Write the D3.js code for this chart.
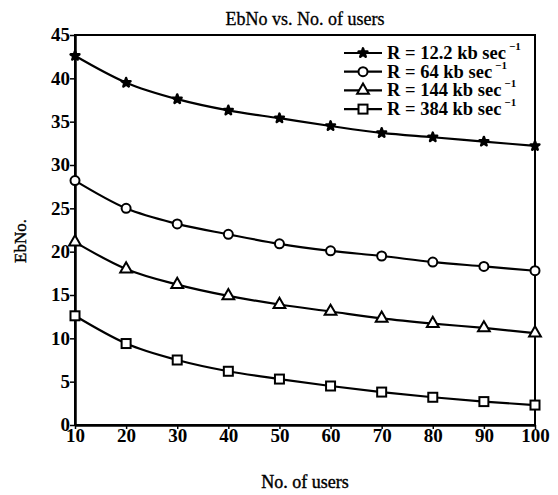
<!DOCTYPE html>
<html>
<head>
<meta charset="utf-8">
<script src="https://cdn.jsdelivr.net/npm/d3@7"></script>
<style>
  html, body { margin: 0; padding: 0; background: #fff; overflow: hidden; }
  svg { display: block; }
</style>
</head>
<body>
<script>
// data
const users = [10, 20, 30, 40, 50, 60, 70, 80, 90, 100];
const r12 = [42.6, 39.5, 37.6, 36.3, 35.4, 34.5, 33.7, 33.2, 32.7, 32.2];
const r64 = [28.2, 25.0, 23.2, 22.0, 20.9, 20.1, 19.5, 18.8, 18.3, 17.8];
const r144 = [21.1, 18.0, 16.2, 14.9, 13.9, 13.1, 12.3, 11.7, 11.2, 10.6];
const r384 = [12.6, 9.4, 7.5, 6.2, 5.3, 4.5, 3.8, 3.2, 2.7, 2.3];
const seriesNames = ['R = 12.2 kb sec', 'R = 64 kb sec', 'R = 144 kb sec', 'R = 384 kb sec'];
const yTicks = [0, 5, 10, 15, 20, 25, 30, 35, 40, 45];

const series = [
  { name: seriesNames[0], values: r12, marker: 'star' },
  { name: seriesNames[1], values: r64, marker: 'circle' },
  { name: seriesNames[2], values: r144, marker: 'triangle' },
  { name: seriesNames[3], values: r384, marker: 'square' }
];

const width = 558;
const height = 495;
const margin = { top: 35, right: 23, bottom: 70, left: 75 };
const innerWidth = width - margin.left - margin.right;
const innerHeight = height - margin.top - margin.bottom;
const font = "'Liberation Serif', 'Times New Roman', serif";

const svg = d3.select('body').append('svg')
  .attr('width', width)
  .attr('height', height)
  .style('font-family', font);

const chart = svg.append('g')
  .attr('transform', `translate(${margin.left},${margin.top})`);

const x = d3.scaleLinear().domain([10, 100]).range([0, innerWidth]);
const y = d3.scaleLinear().domain([0, 45]).range([innerHeight, 0]);

// frame
chart.append('rect')
  .attr('width', innerWidth)
  .attr('height', innerHeight)
  .attr('fill', 'none')
  .attr('stroke', '#000')
  .attr('stroke-width', 2);

const xAxis = chart.append('g')
  .attr('transform', `translate(0,${innerHeight})`)
  .call(d3.axisBottom(x).tickValues(users).tickSize(4).tickSizeOuter(0));
const yAxis = chart.append('g')
  .call(d3.axisLeft(y).tickValues(yTicks).tickSize(5).tickSizeOuter(0));

[xAxis, yAxis].forEach(ax => {
  ax.attr('font-family', null).attr('font-size', null);
  ax.select('.domain').attr('stroke-width', 2.5);
  ax.selectAll('.tick line').attr('stroke-width', 1.5);
  ax.selectAll('.tick text')
    .style('font-family', font)
    .style('font-size', '19px')
    .style('font-weight', 700)
    .attr('fill', '#000');
});
xAxis.selectAll('.tick text').attr('dy', '0.75em').attr('y', 3);
yAxis.selectAll('.tick text').attr('x', -5).attr('dy', '0.3em');

const line = d3.line()
  .x((d, i) => x(users[i]))
  .y(d => y(d))
  .curve(d3.curveMonotoneX);

function drawMarker(g, type, cx, cy) {
  if (type === 'star') {
    g.append('path')
      .attr('transform', `translate(${cx},${cy})`)
      .attr('d', d3.symbol().type(d3.symbolStar).size(24)())
      .attr('fill', '#000').attr('stroke', '#000').attr('stroke-width', 2.5)
      .attr('stroke-linejoin', 'round');
  } else if (type === 'circle') {
    g.append('circle')
      .attr('cx', cx).attr('cy', cy).attr('r', 4.5)
      .attr('fill', '#fff').attr('stroke', '#000').attr('stroke-width', 2);
  } else if (type === 'triangle') {
    g.append('path')
      .attr('transform', `translate(${cx},${cy})`)
      .attr('d', d3.symbol().type(d3.symbolTriangle).size(60)())
      .attr('fill', '#fff').attr('stroke', '#000').attr('stroke-width', 2);
  } else {
    g.append('rect')
      .attr('x', cx - 4.5).attr('y', cy - 4.5).attr('width', 9).attr('height', 9)
      .attr('fill', '#fff').attr('stroke', '#000').attr('stroke-width', 2);
  }
}

series.forEach(s => {
  chart.append('path')
    .datum(s.values)
    .attr('fill', 'none')
    .attr('stroke', '#000')
    .attr('stroke-width', 2.2)
    .attr('d', line);
  const g = chart.append('g');
  s.values.forEach((v, i) => drawMarker(g, s.marker, x(users[i]), y(v)));
});

// legend
const legend = svg.append('g').attr('transform', 'translate(344, 53)');
series.forEach((s, i) => {
  const row = legend.append('g').attr('transform', `translate(0,${i * 18.7})`);
  row.append('line')
    .attr('x1', 0).attr('x2', 38)
    .attr('stroke', '#000').attr('stroke-width', 2.2);
  drawMarker(row, s.marker, 19, 0);
  const t = row.append('text')
    .attr('x', 43).attr('y', 6)
    .style('font-size', '18.5px')
    .style('font-weight', 700)
    .text(s.name);
  t.append('tspan')
    .attr('dy', -9)
    .attr('dx', 3)
    .style('font-size', '11px')
    .text('\u22121');
});

// title and axis labels
svg.append('text')
  .attr('x', margin.left + innerWidth / 2)
  .attr('y', 25)
  .attr('text-anchor', 'middle')
  .style('font-size', '18px')
  .attr('stroke', '#000')
  .attr('stroke-width', 0.3)
  .text('EbNo vs. No. of users');

svg.append('text')
  .attr('x', margin.left + innerWidth / 2)
  .attr('y', 488)
  .attr('text-anchor', 'middle')
  .style('font-size', '18px')
  .attr('stroke', '#000')
  .attr('stroke-width', 0.4)
  .text('No. of users');

svg.append('text')
  .attr('transform', 'translate(26,241) rotate(-90)')
  .attr('text-anchor', 'middle')
  .style('font-size', '17px')
  .attr('stroke', '#000')
  .attr('stroke-width', 0.4)
  .text('EbNo.');
</script>
</body>
</html>
